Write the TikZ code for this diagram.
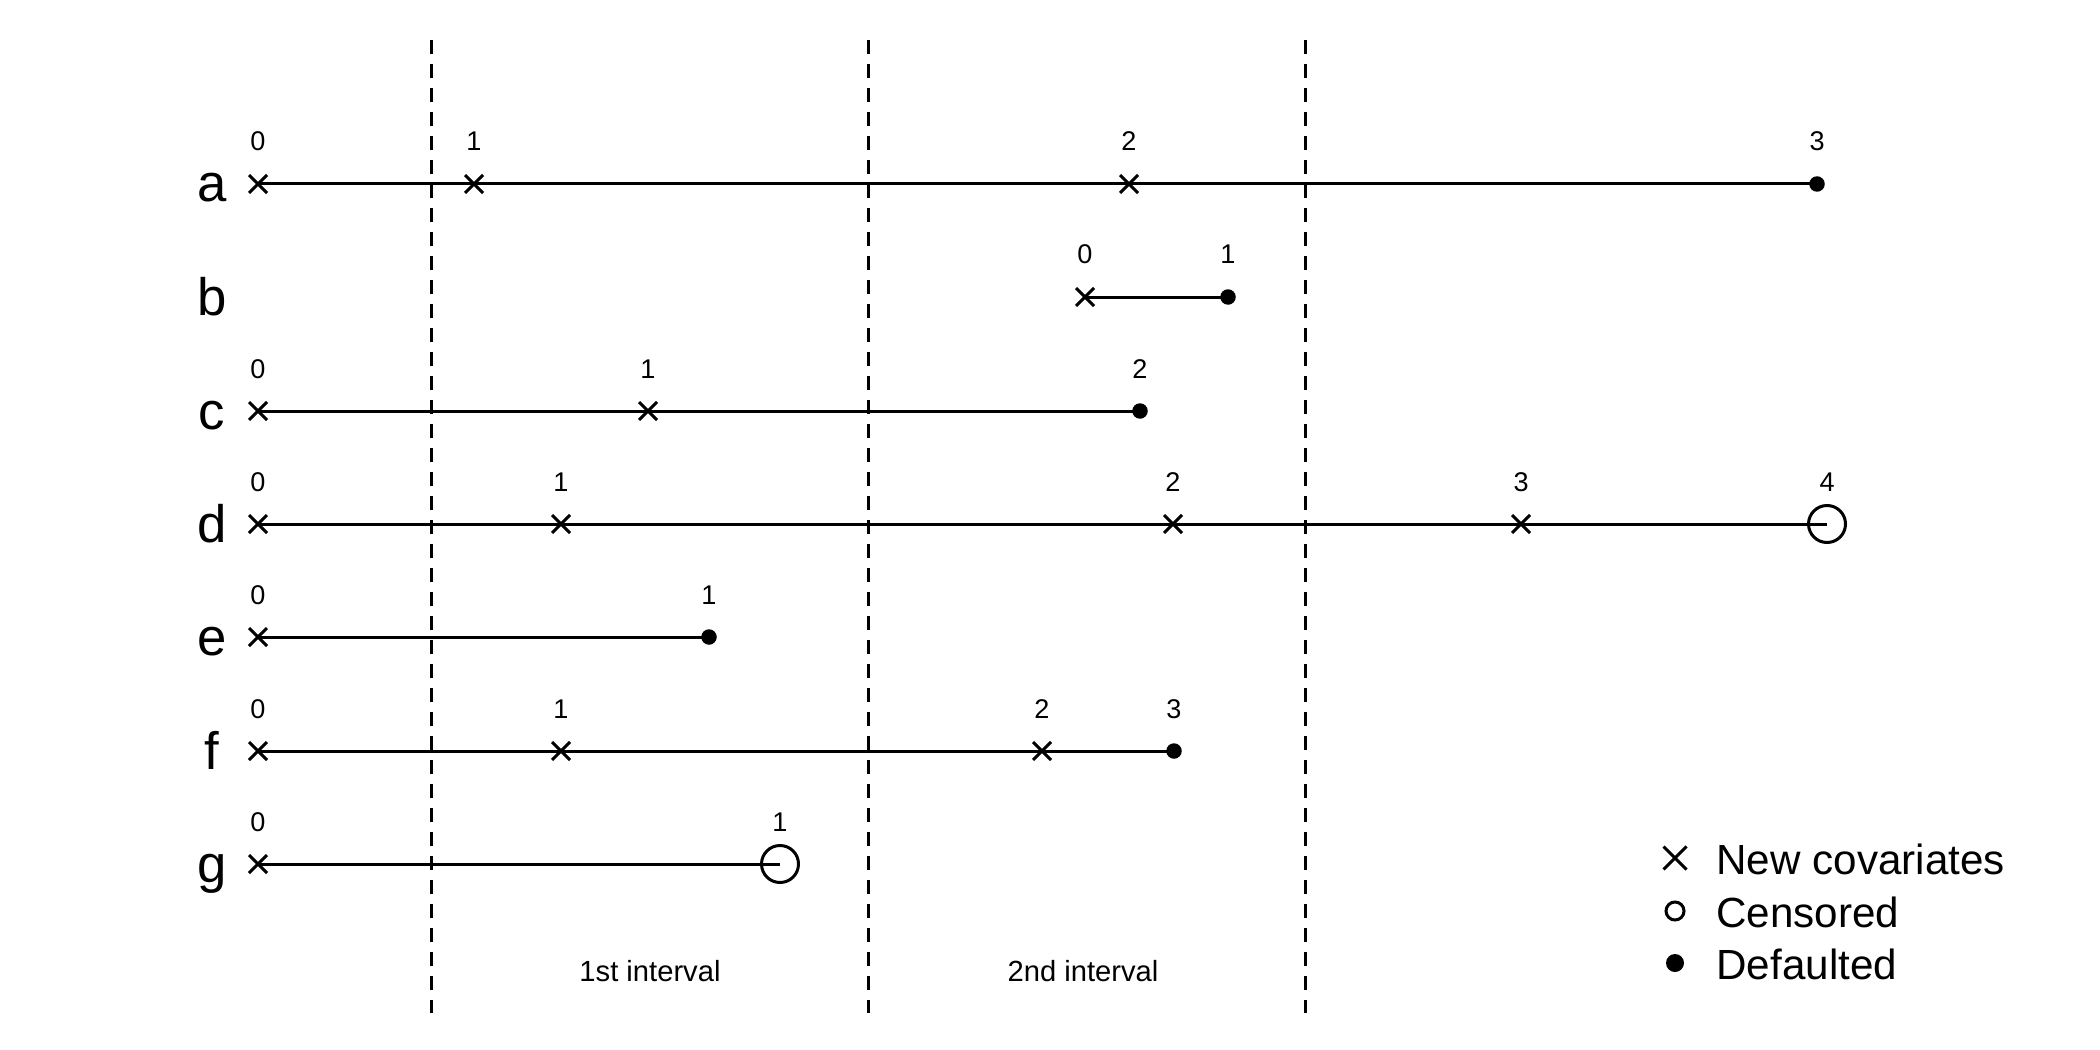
\documentclass[tikz,border=0pt]{standalone}
\usepackage{fontspec}
\setmainfont{Liberation Sans}
\usetikzlibrary{shapes.misc}
\begin{document}
\begin{tikzpicture}[x=0.1mm,y=-0.1mm,line width=0.3mm,
  cx/.style={cross out,draw,line width=0.3mm,inner sep=0pt,minimum size=1.5mm},
  dflt/.style={circle,fill,draw=none,inner sep=0pt,minimum size=1.55mm},
  cens/.style={circle,draw,line width=0.3mm,inner sep=0pt,minimum size=3.7mm},
  lcx/.style={cross out,draw,line width=0.3mm,inner sep=0pt,minimum size=2mm},
  ldflt/.style={circle,fill,draw=none,inner sep=0pt,minimum size=1.8mm},
  lcens/.style={circle,draw,line width=0.3mm,inner sep=0pt,minimum size=1.8mm},
  rowlab/.style={anchor=base,inner sep=0pt,font=\fontsize{15}{18}\selectfont},
  ticklab/.style={anchor=base,inner sep=0pt,font=\fontsize{7.7}{9}\selectfont},
  intlab/.style={anchor=base,inner sep=0pt,font=\fontsize{8.3}{10}\selectfont},
  leglab/.style={anchor=base west,inner sep=0pt,font=\fontsize{12}{14}\selectfont},
  seg/.style={line width=0.3mm},
  divider/.style={line width=0.3mm,dash pattern=on 1.4mm off 1mm}]
\useasboundingbox (0,0) rectangle (2100,1050);

% dividers
\coordinate (v1t) at (431,40);  \coordinate (v1b) at (431,1013);
\coordinate (v2t) at (868,40);  \coordinate (v2b) at (868,1013);
\coordinate (v3t) at (1305,40); \coordinate (v3b) at (1305,1013);
\draw[divider] (v1t) -- (v1b);
\draw[divider] (v2t) -- (v2b);
\draw[divider] (v3t) -- (v3b);

% row labels
\node[rowlab] (la) at (212,202) {a};
\node[rowlab] (lb) at (212,315) {b};
\node[rowlab] (lc) at (212,429) {c};
\node[rowlab] (ld) at (212,542) {d};
\node[rowlab] (le) at (212,655) {e};
\node[rowlab] (lf) at (212,769) {f};
\node[rowlab] (lg) at (212,882) {g};

% row a
\node[cx] (a0) at (258,184) {};
\node[cx] (a1) at (474,184) {};
\node[cx] (a2) at (1129,184) {};
\node[dflt] (a3) at (1817,184) {};
\draw[seg] (a0.center) -- (a1.center) -- (a2.center) -- (a3.center);
\node[ticklab] (ta0) at (258,151) {0};
\node[ticklab] (ta1) at (474,151) {1};
\node[ticklab] (ta2) at (1129,151) {2};
\node[ticklab] (ta3) at (1817,151) {3};

% row b
\node[cx] (b0) at (1085,297) {};
\node[dflt] (b1) at (1228,297) {};
\draw[seg] (b0.center) -- (b1.center);
\node[ticklab] (tb0) at (1085,264) {0};
\node[ticklab] (tb1) at (1228,264) {1};

% row c
\node[cx] (c0) at (258,411) {};
\node[cx] (c1) at (648,411) {};
\node[dflt] (c2) at (1140,411) {};
\draw[seg] (c0.center) -- (c1.center) -- (c2.center);
\node[ticklab] (tc0) at (258,378) {0};
\node[ticklab] (tc1) at (648,378) {1};
\node[ticklab] (tc2) at (1140,378) {2};

% row d
\node[cx] (d0) at (258,524) {};
\node[cx] (d1) at (561,524) {};
\node[cx] (d2) at (1173,524) {};
\node[cx] (d3) at (1521,524) {};
\node[cens] (d4) at (1827,524) {};
\draw[seg] (d0.center) -- (d1.center) -- (d2.center) -- (d3.center) -- (d4.center);
\node[ticklab] (td0) at (258,491) {0};
\node[ticklab] (td1) at (561,491) {1};
\node[ticklab] (td2) at (1173,491) {2};
\node[ticklab] (td3) at (1521,491) {3};
\node[ticklab] (td4) at (1827,491) {4};

% row e
\node[cx] (e0) at (258,637) {};
\node[dflt] (e1) at (709,637) {};
\draw[seg] (e0.center) -- (e1.center);
\node[ticklab] (te0) at (258,604) {0};
\node[ticklab] (te1) at (709,604) {1};

% row f
\node[cx] (f0) at (258,751) {};
\node[cx] (f1) at (561,751) {};
\node[cx] (f2) at (1042,751) {};
\node[dflt] (f3) at (1174,751) {};
\draw[seg] (f0.center) -- (f1.center) -- (f2.center) -- (f3.center);
\node[ticklab] (tf0) at (258,718) {0};
\node[ticklab] (tf1) at (561,718) {1};
\node[ticklab] (tf2) at (1042,718) {2};
\node[ticklab] (tf3) at (1174,718) {3};

% row g
\node[cx] (g0) at (258,864) {};
\node[cens] (g1) at (780,864) {};
\draw[seg] (g0.center) -- (g1.center);
\node[ticklab] (tg0) at (258,831) {0};
\node[ticklab] (tg1) at (780,831) {1};

% interval labels
\node[intlab] (int1) at (650,981) {1st interval};
\node[intlab] (int2) at (1083,981) {2nd interval};

% legend
\node[lcx] (lm1) at (1675,858) {};
\node[lcens] (lm2) at (1675,911) {};
\node[ldflt] (lm3) at (1675,963) {};
\node[leglab] (lt1) at (1715,874) {New covariates};
\node[leglab] (lt2) at (1715,927) {Censored};
\node[leglab] (lt3) at (1715,979) {Defaulted};
\end{tikzpicture}
\end{document}
